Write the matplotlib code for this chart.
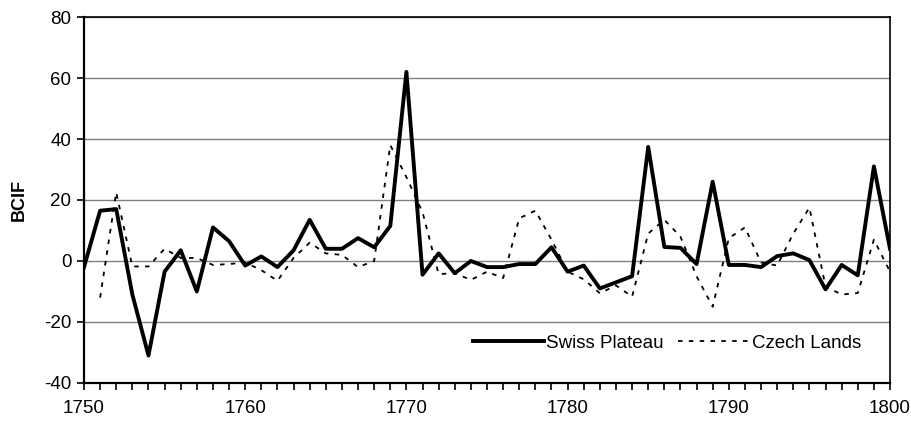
import matplotlib.pyplot as plt
import numpy as np
from matplotlib.ticker import MultipleLocator

plt.rcParams["font.family"] = ["Liberation Sans", "DejaVu Sans"]
plt.rcParams["axes.unicode_minus"] = False

years = np.arange(1750, 1801)

swiss_plateau = [
    -2, 16.5, 17, -11, -31, -3.5, 3.5, -10, 11, 6.5,
    -1.5, 1.5, -2, 3.5, 13.5, 4, 4, 7.5, 4.5, 11.5,
    62, -4.5, 2.5, -4, 0, -2, -2, -1, -1, 4.5,
    -3.5, -1.5, -9, -7, -5, 37.4, 4.6, 4.3, -1, 26,
    -1.3, -1.3, -2, 1.6, 2.5, 0.3, -9.3, -1.3, -4.7, 31,
    4,
]

czech_lands = [
    np.nan, -12, 22.5, -1.8, -1.8, 4, 1, 1, -1.3, -1,
    -0.5, -3, -6.5, 1, 6, 2.5, 2, -2, 0, 38,
    27.5, 16, -4.3, -4, -6.2, -3.5, -5.6, 14, 16.5, 7,
    -3.5, -6, -10.6, -8, -11.7, 9, 13.5, 8, -5, -15,
    7.5, 11, -0.5, -1.5, 9, 17.5, -8.4, -11, -10.5, 7,
    -3.5,
]

fig = plt.figure(figsize=(9.12, 4.21), dpi=100)
ax = fig.add_axes([0.0921, 0.0903, 0.8838, 0.8693])

ax.plot(years, swiss_plateau, "-", color="black", lw=2.8,
        label="Swiss Plateau", zorder=3)
ax.plot(years, czech_lands, linestyle=(0, (2.5, 3.5)), color="black",
        lw=1.3, label="Czech Lands", zorder=2)

ax.set_xlim(1750, 1800)
ax.set_ylim(-40, 80)
ax.xaxis.set_major_locator(MultipleLocator(10))
ax.xaxis.set_minor_locator(MultipleLocator(1))
ax.yaxis.set_major_locator(MultipleLocator(20))

ax.grid(axis="y", color="#808080", lw=1.0, zorder=0)
ax.set_axisbelow(True)

for side in ["left", "bottom"]:
    ax.spines[side].set_linewidth(1.6)
for side in ["top", "right"]:
    ax.spines[side].set_linewidth(1.2)

ax.tick_params(axis="both", which="major", direction="out", length=5,
               width=1.2, labelsize=13.5, colors="black")
ax.tick_params(axis="x", which="minor", direction="out", length=5, width=1.2)
ax.tick_params(axis="x", which="major", pad=7)
ax.tick_params(axis="y", which="major", pad=4)

ax.set_ylabel("BCIF", fontsize=13, fontweight="bold", labelpad=12)

leg = ax.legend(loc="lower right", bbox_to_anchor=(0.98, 0.05), ncol=2,
                frameon=True, fontsize=13.5, handlelength=3.8,
                handletextpad=0.12, columnspacing=0.75, borderpad=0.2)
leg.get_frame().set_edgecolor("white")
leg.get_frame().set_facecolor("white")
leg.get_frame().set_alpha(1)

fig.savefig("out.png", dpi=100)
